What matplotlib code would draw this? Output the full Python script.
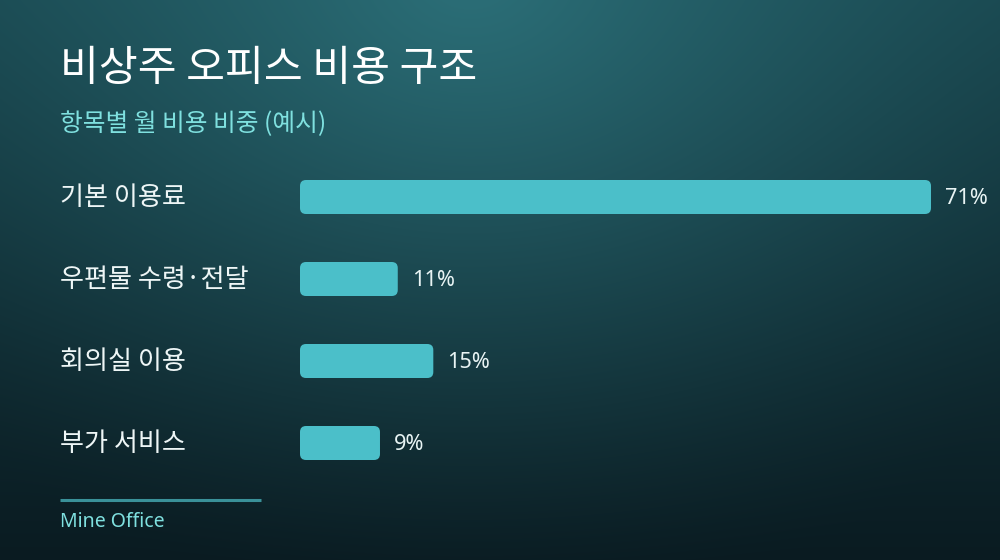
import numpy as np
import matplotlib
matplotlib.use("Agg")
import matplotlib.pyplot as plt
import matplotlib.transforms as mtransforms
from matplotlib.patches import FancyBboxPatch

plt.rcParams["font.family"] = ["Noto Sans CJK KR", "DejaVu Sans"]
LATIN = ["Noto Sans", "DejaVu Sans"]

# data
categories = ["기본 이용료", "우편물 수령·전달", "회의실 이용", "부가 서비스"]
shares = [71, 11, 15, 9]
value_labels = ["71%", "11%", "15%", "9%"]

title = "비상주 오피스 비용 구조"
subtitle = "항목별 월 비용 비중 (예시)"
footer = "Mine Office"

W, H, DPI = 1000, 560, 100
BAR_COLOR = "#4bbfc9"
ACCENT = "#7fe0df"


def hex_rgb(h):
    h = h.lstrip("#")
    return np.array([int(h[i:i + 2], 16) for i in (0, 2, 4)]) / 255.0


def background():
    yy, xx = np.mgrid[0:H, 0:W].astype(float)
    t = (yy / H)[..., None]
    top, bottom = hex_rgb("#18444c"), hex_rgb("#0a1b21")
    img = top * (1 - t) + bottom * t
    # soft glow near the top centre
    d = np.sqrt(((xx - 470) / 1.15) ** 2 + (yy + 30) ** 2)
    g = np.clip(1 - d / 650, 0, 1)[..., None] ** 1.5
    glow = hex_rgb("#2c7079")
    img = img * (1 - g) + glow * g
    return img


fig = plt.figure(figsize=(W / DPI, H / DPI), dpi=DPI)
bg = fig.add_axes([0, 0, 1, 1], zorder=-10)
bg.imshow(background(), aspect="auto", extent=[0, W, H, 0])
bg.set_axis_off()

# bar axes: x 0..71 spans px 300..931, rows centred 197..443
x0, x1 = 300, 931
row_gap = 82
y_top = 197 - row_gap / 2
y_bot = 443 + row_gap / 2
ax = fig.add_axes([x0 / W, 1 - y_bot / H, (x1 - x0) / W, (y_bot - y_top) / H])
ax.set_xlim(0, max(shares))
ax.set_ylim(len(categories) - 0.5, -0.5)
ax.set_axis_off()
ax.patch.set_alpha(0)

ypos = np.arange(len(categories))
bar_h = 34 / row_gap
bars = ax.barh(ypos, shares, height=bar_h, color="none")

x_per_px = max(shares) / (x1 - x0)
y_per_px = 1 / row_gap
radius_px = 6
for b in bars:
    x, y = b.get_x(), b.get_y()
    w, h = b.get_width(), b.get_height()
    ax.add_patch(FancyBboxPatch(
        (x, y), w, h,
        boxstyle=f"round,pad=0,rounding_size={radius_px * x_per_px}",
        mutation_aspect=y_per_px / x_per_px,
        facecolor=BAR_COLOR, edgecolor="none"))

for yi, v, lab in zip(ypos, shares, value_labels):
    ax.annotate(lab, (v, yi), xytext=(14, -2), textcoords="offset pixels",
                ha="left", va="center", color="#e8f4f4", fontsize=15.6,
                family=LATIN)

lab_tr = mtransforms.blended_transform_factory(fig.transFigure, ax.transData)
for yi, cat in zip(ypos, categories):
    ax.text(60 / W, yi + 0.01, cat, transform=lab_tr, ha="left", va="center",
            color="#eef6f6", fontsize=18.8)

fig.text(60 / W, 1 - 69 / H, title, ha="left", va="center",
         color="white", fontsize=30.4, fontweight="medium")
fig.text(60 / W, 1 - 124 / H, subtitle, ha="left", va="center",
         color=ACCENT, fontsize=17.8)

bg.plot([60, 261], [500, 500], color="#3a9199", lw=2.2, solid_capstyle="butt")
bg.set_xlim(0, W)
bg.set_ylim(H, 0)
fig.text(60 / W, 1 - 522 / H, footer, ha="left", va="center",
         color=ACCENT, fontsize=14, family=LATIN)

fig.savefig("out.png", dpi=DPI)
